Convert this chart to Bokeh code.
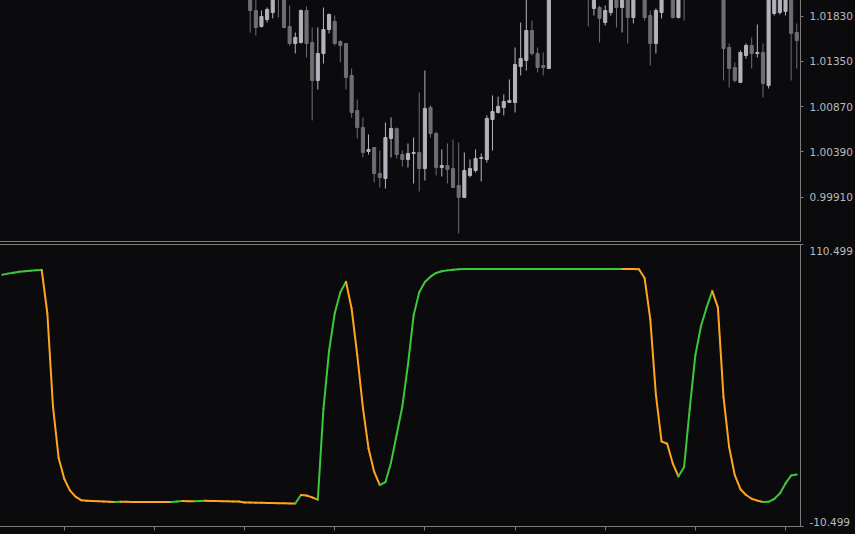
from bokeh.plotting import figure
from bokeh.layouts import column
from bokeh.models import Range1d, FixedTicker, PrintfTickFormatter, ColumnDataSource
from bokeh.embed import file_html
from bokeh.resources import INLINE

# ---------------- data ----------------
bars = [44, 45, 46, 47, 48, 49, 50, 51, 52, 53, 54, 55, 56, 57, 58, 59, 60, 61, 62, 63,
        64, 65, 66, 67, 68, 69, 70, 71, 72, 73, 74, 75, 76, 77, 78, 79, 80, 81, 82, 83,
        84, 85, 86, 87, 88, 89, 90, 91, 92, 93, 94, 95, 96, 97,
        104, 105, 106, 107, 108, 109, 110, 111, 112, 114, 115, 116, 117, 119, 120, 121,
        128, 129, 130, 131, 132, 133, 134, 135, 136, 137, 138, 139, 140, 141]
opens = [1.02028, 1.01890, 1.01721, 1.01795, 1.01869, 1.02103, 1.02018, 1.01721, 1.01540, 1.01551,
         1.01890, 1.01551, 1.01148, 1.01434, 1.01689, 1.01774, 1.01562, 1.01540, 1.01201, 1.00830,
         1.00649, 1.00395, 1.00437, 1.00161, 1.00108, 1.00533, 1.00639, 1.00363, 1.00310, 1.00374,
         1.00384, 1.00214, 1.00862, 1.00586, 1.00225, 1.00246, 1.00214, 1.00034, 0.99907, 1.00140,
         1.00193, 1.00321, 1.00310, 1.00734, 1.00809, 1.00862, 1.00915, 1.00915, 1.01296, 1.01360,
         1.01678, 1.01434, 1.01307, 1.01275,
         1.02209, 1.01912, 1.01922, 1.01763, 1.01869, 1.02028, 1.01922, 1.02028, 1.01816, 1.02028,
         1.01837, 1.01540, 1.01869, 1.02028, 1.01816, 1.02103,
         1.02028, 1.01498, 1.01286, 1.01127, 1.01413, 1.01519, 1.01434, 1.01445, 1.01095, 1.01859,
         1.01869, 1.01880, 1.02028, 1.01657]
highs = [1.02081, 1.02028, 1.01890, 1.01922, 1.02050, 1.02156, 1.02060, 1.01943, 1.01657, 1.01901,
         1.01933, 1.01710, 1.01710, 1.01922, 1.01859, 1.01837, 1.01572, 1.01540, 1.01275, 1.00946,
         1.00755, 1.00575, 1.00437, 1.00405, 1.00702, 1.00755, 1.00649, 1.00405, 1.00480, 1.00543,
         1.01021, 1.01254, 1.00883, 1.00607, 1.00416, 1.00480, 1.00522, 1.00490, 1.00384, 1.00310,
         1.00416, 1.00374, 1.00777, 1.00989, 1.00978, 1.01000, 1.01159, 1.01498, 1.01763, 1.02018,
         1.01784, 1.01498, 1.01445, 1.02103,
         1.02262, 1.02081, 1.01943, 1.01943, 1.02060, 1.02060, 1.02081, 1.02060, 1.02060, 1.02060,
         1.01890, 1.01912, 1.02060, 1.02060, 1.02060, 1.02124,
         1.02060, 1.01540, 1.01339, 1.01466, 1.01540, 1.01604, 1.01742, 1.01540, 1.02060, 1.02060,
         1.02060, 1.02060, 1.02060, 1.01753]
lows = [1.01657, 1.01625, 1.01710, 1.01763, 1.01806, 1.01816, 1.01700, 1.01519, 1.01434, 1.01540,
        1.01392, 1.00724, 1.01052, 1.01328, 1.01647, 1.01519, 1.01339, 1.01052, 1.00755, 1.00533,
        1.00331, 1.00363, 1.00066, 1.00013, 1.00002, 1.00331, 1.00321, 1.00236, 1.00225, 1.00055,
        0.99970, 1.00087, 1.00543, 1.00140, 1.00129, 1.00055, 1.00013, 0.99525, 0.99907, 1.00119,
        1.00172, 1.00076, 1.00278, 1.00405, 1.00798, 1.00777, 1.00915, 1.00809, 1.01201, 1.01254,
        1.01413, 1.01233, 1.01201, 1.01275,
        1.01721, 1.01837, 1.01551, 1.01731, 1.01837, 1.01710, 1.01657, 1.01540, 1.01753, 1.01784,
        1.01307, 1.01434, 1.01806, 1.01806, 1.01806, 1.01784,
        1.01148, 1.01074, 1.01127, 1.01127, 1.01381, 1.01275, 1.01392, 1.00968, 1.01063, 1.01837,
        1.01848, 1.01837, 1.01148, 1.01275]
closes = [1.01890, 1.01710, 1.01827, 1.01901, 1.02018, 1.02028, 1.01710, 1.01540, 1.01604, 1.01890,
          1.01540, 1.01148, 1.01434, 1.01689, 1.01848, 1.01540, 1.01519, 1.01180, 1.00809, 1.00649,
          1.00384, 1.00416, 1.00161, 1.00119, 1.00543, 1.00639, 1.00363, 1.00310, 1.00374, 1.00384,
          1.00214, 1.00851, 1.00586, 1.00225, 1.00246, 1.00204, 1.00013, 0.99907, 1.00193, 1.00214,
          1.00321, 1.00331, 1.00745, 1.00819, 1.00873, 1.00925, 1.00936, 1.01318, 1.01381, 1.01678,
          1.01434, 1.01286, 1.01286, 1.02050,
          1.02050, 1.02050, 1.01806, 1.01890, 1.02028, 1.01922, 1.02050, 1.01816, 1.02028, 1.01816,
          1.01540, 1.01890, 1.02028, 1.01816, 1.02028, 1.02039,
          1.01487, 1.01275, 1.01148, 1.01445, 1.01519, 1.01434, 1.01445, 1.01116, 1.02028, 1.02028,
          1.02028, 1.02028, 1.01647, 1.01572]

osc = [97.5, 98.0, 98.4, 98.8, 99.0, 99.2, 99.5, 99.6, 81.0, 41.0,
       19.0, 10.0, 5.0, 2.3, 0.8, 0.5, 0.4, 0.3, 0.25, 0.1,
       0.05, 0.1, 0.08, 0.06, 0.05, 0.04, 0.03, 0.02, 0.01, 0.0,
       -0.01, 0.2, 0.4, 0.35, 0.3, 0.4, 0.5, 0.45, 0.4, 0.35,
       0.3, 0.25, 0.2, -0.2, -0.25, -0.3, -0.35, -0.4, -0.45, -0.5,
       -0.55, -0.6, -0.62, 3.0, 2.8, 2.0, 1.0, 40.0, 65.0, 81.0,
       90.0, 94.5, 83.0, 63.0, 40.5, 23.0, 13.0, 7.3, 8.5, 17.0,
       29.0, 41.0, 59.0, 80.0, 90.0, 94.4, 96.7, 98.3, 99.0, 99.4,
       99.7, 99.85, 99.95, 100.0, 100.0, 100.0, 100.0, 100.0, 100.0, 100.0,
       100.0, 100.0, 100.0, 100.0, 100.0, 100.0, 100.0, 100.0, 100.0, 100.0,
       100.0, 100.0, 100.0, 100.0, 100.0, 100.0, 100.0, 100.0, 100.0, 100.0,
       100.0, 99.98, 99.96, 99.9, 96.0, 78.5, 46.0, 26.0, 25.0, 16.5,
       11.0, 15.0, 40.0, 63.0, 75.5, 83.5, 90.5, 83.5, 45.0, 23.5,
       11.5, 5.5, 3.0, 1.4, 0.6, 0.0, 0.1, 1.3, 3.7, 8.0,
       11.4, 11.8]

price_ticks = [1.01830, 1.01350, 1.00870, 1.00390, 0.99910]
osc_top = 110.499
osc_bottom = -10.499
osc_label_pos = [107.5, -8.4]
time_ticks = [11, 27, 43, 59, 75, 91, 107, 123, 139]

# ---------------- style ----------------
BG = "#0b0b0e"
LINE = "#7c7c7c"
TXT = "#b9b9b9"
BULL = "#b3b3bb"
BEAR = "#6e6e73"
UP = "#3cc83c"
DOWN = "#ffa51e"
FONT = "DejaVu Sans"
FSIZE = "10.5px"

x_range = Range1d(-0.49, 141.66)

# ---------------- price panel ----------------
top = figure(width=856, height=243, x_range=x_range, y_range=Range1d(0.99440, 1.02007),
             output_backend="svg", toolbar_location=None,
             x_axis_location=None, y_axis_location="right",
             min_border_left=0, min_border_top=0, min_border_bottom=1, min_border_right=54,
             background_fill_color=BG, border_fill_color=BG, outline_line_color=LINE)
top.grid.visible = False

colors = [BULL if c >= o else BEAR for o, c in zip(opens, closes)]
src = ColumnDataSource(dict(
    x=bars, h=highs, l=lows,
    t=[max(o, c) for o, c in zip(opens, closes)],
    b=[min(o, c) for o, c in zip(opens, closes)],
    color=colors))
top.segment(x0="x", y0="h", x1="x", y1="l", line_color="color", line_width=1, source=src)
top.vbar(x="x", width=0.55, top="t", bottom="b", fill_color="color", line_color="color",
         line_width=1, source=src)

ya = top.yaxis[0]
ya.ticker = FixedTicker(ticks=price_ticks)
ya.formatter = PrintfTickFormatter(format="%.5f")
ya.axis_line_color = LINE
ya.major_tick_line_color = LINE
ya.major_tick_out = 3
ya.major_tick_in = 0
ya.minor_tick_line_color = None
ya.major_label_standoff = 6
ya.major_label_text_color = TXT
ya.major_label_text_font = FONT
ya.major_label_text_font_size = FSIZE

# ---------------- oscillator panel ----------------
bot = figure(width=856, height=292, x_range=x_range, y_range=Range1d(osc_bottom, osc_top),
             output_backend="svg", toolbar_location=None,
             x_axis_location="below", y_axis_location="right",
             min_border_left=0, min_border_top=2, min_border_bottom=8, min_border_right=54,
             background_fill_color=BG, border_fill_color=BG, outline_line_color=LINE)
bot.grid.visible = False

ks = list(range(len(osc)))
seg = ColumnDataSource(dict(
    x0=ks[:-1], x1=ks[1:], y0=osc[:-1], y1=osc[1:],
    color=[UP if b >= a else DOWN for a, b in zip(osc[:-1], osc[1:])]))
bot.segment(x0="x0", y0="y0", x1="x1", y1="y1", line_color="color", line_width=2,
            line_cap="round", source=seg)

yb = bot.yaxis[0]
yb.ticker = FixedTicker(ticks=osc_label_pos, minor_ticks=[osc_top, osc_bottom])
yb.major_label_overrides = {osc_label_pos[0]: f"{osc_top:.3f}",
                            osc_label_pos[1]: f"{osc_bottom:.3f}"}
yb.axis_line_color = LINE
yb.major_tick_line_color = None
yb.major_tick_out = 3
yb.major_tick_in = 0
yb.minor_tick_line_color = LINE
yb.minor_tick_out = 3
yb.minor_tick_in = 0
yb.major_label_standoff = 6
yb.major_label_text_color = TXT
yb.major_label_text_font = FONT
yb.major_label_text_font_size = FSIZE

xb = bot.xaxis[0]
xb.ticker = FixedTicker(ticks=time_ticks)
xb.axis_line_color = LINE
xb.major_tick_line_color = LINE
xb.major_tick_out = 4
xb.major_tick_in = 0
xb.minor_tick_line_color = None
xb.major_label_text_font_size = "0px"
xb.major_label_standoff = 0
xb.major_label_text_color = None

layout = column(top, bot, spacing=0,
                styles={"position": "absolute", "left": "-1px", "top": "-1px",
                        "background-color": BG})

open("out.html", "w").write(file_html(layout, INLINE))
